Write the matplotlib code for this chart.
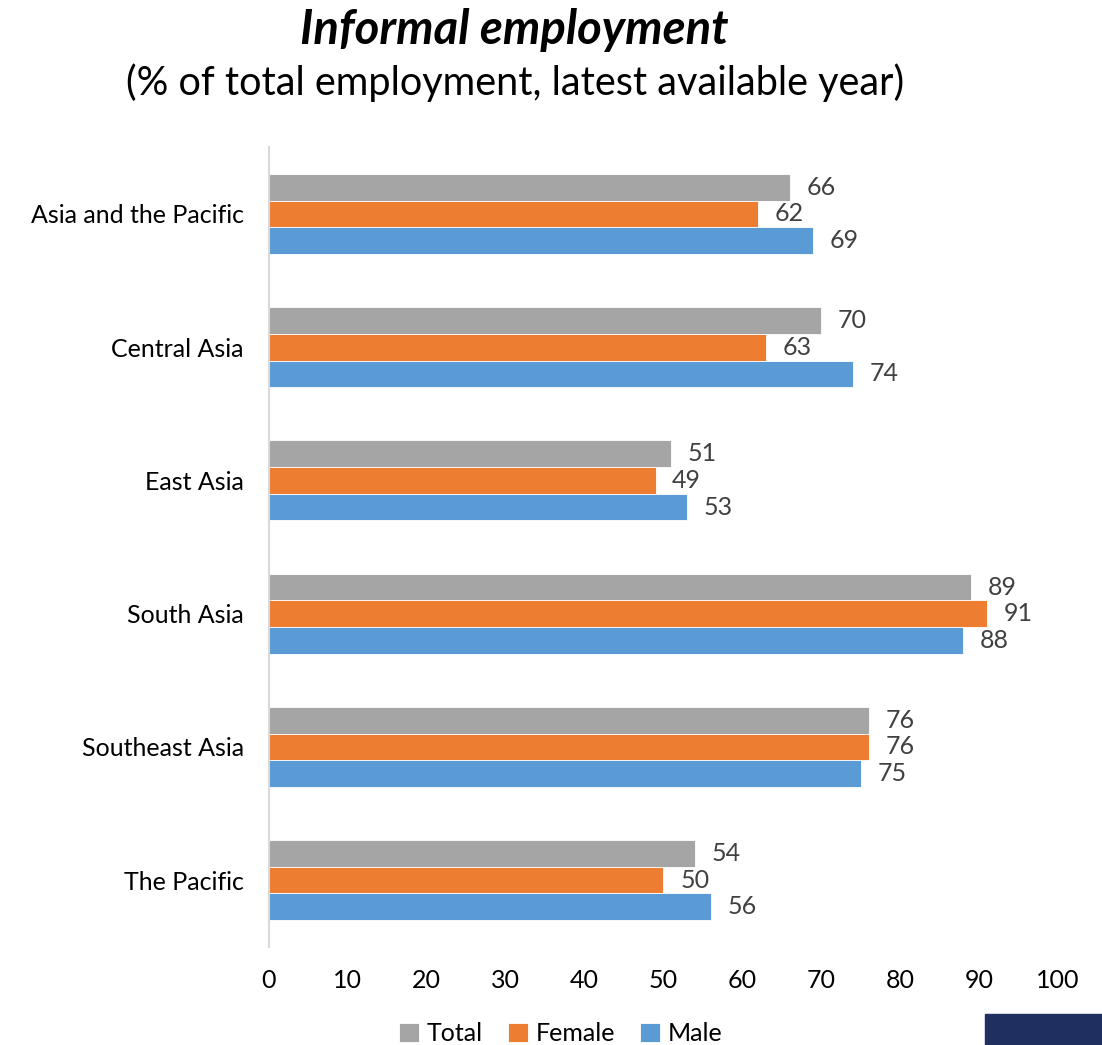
import numpy as np
import matplotlib.pyplot as plt
from matplotlib.patches import Rectangle

plt.rcParams['font.family'] = ['Lato', 'DejaVu Sans']

regions = ['Asia and the Pacific', 'Central Asia', 'East Asia', 'South Asia',
           'Southeast Asia', 'The Pacific']
total = [66, 70, 51, 89, 76, 54]
female = [62, 63, 49, 91, 76, 50]
male = [69, 74, 53, 88, 75, 56]

series = [('Total', total, '#A5A5A5', -0.2),
          ('Female', female, '#ED7D31', 0.0),
          ('Male', male, '#5B9BD5', 0.2)]

fig = plt.figure(figsize=(11.02, 10.45), dpi=100)
ax = fig.add_axes([0.244, 0.094, 0.716, 0.765])

y = np.arange(len(regions))
for name, vals, col, off in series:
    bars = ax.barh(y + off, vals, height=0.2, color=col, edgecolor='white',
                   linewidth=0.6, label=name)
    for b, v in zip(bars, vals):
        ax.annotate(str(v), (v, b.get_y() + b.get_height() / 2),
                    xytext=(12, 0), textcoords='offset points',
                    va='center', ha='left', fontsize=18, color='#404040')

ax.set_xlim(0, 100)
ax.set_ylim(len(regions) - 0.5, -0.5)
ax.set_xticks(range(0, 101, 10))
ax.set_yticks(y)
ax.set_yticklabels(regions)
ax.tick_params(axis='both', length=0, labelsize=18)
ax.tick_params(axis='x', pad=16)
ax.tick_params(axis='y', pad=18)
for s in ['top', 'right', 'bottom']:
    ax.spines[s].set_visible(False)
ax.spines['left'].set_color('#D9D9D9')
ax.spines['left'].set_linewidth(1.5)

fig.text(0.467, 0.971, 'Informal employment', ha='center', va='center',
         fontsize=34, fontweight='bold', fontstyle='italic')
fig.text(0.467, 0.921, '(% of total employment, latest available year)',
         ha='center', va='center', fontsize=28.5)

fig.legend(loc='center', bbox_to_anchor=(0.509, 0.011), ncol=3, frameon=False,
           fontsize=18, handlelength=0.8, handleheight=0.8, handletextpad=0.3,
           columnspacing=1.0)

fig.patches.append(Rectangle((0.894, 0.0), 0.106, 0.03, transform=fig.transFigure,
                             color='#1F3060', zorder=5))

fig.savefig('out.png', dpi=100)
